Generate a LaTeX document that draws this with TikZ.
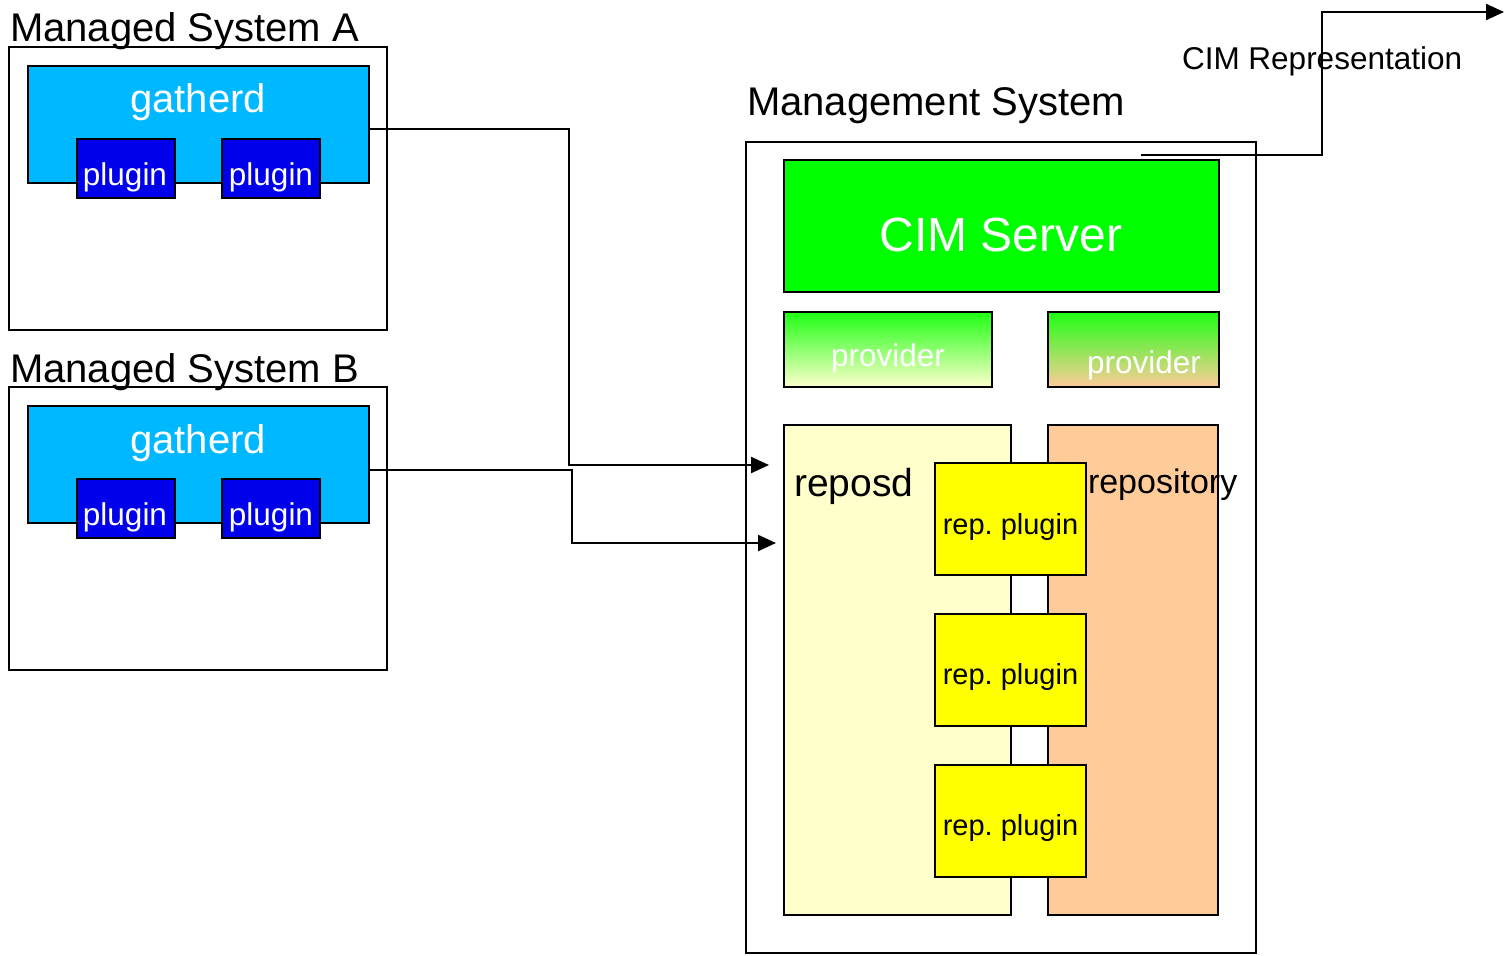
\documentclass[tikz,border=0pt]{standalone}
\usepackage{fontspec}
\setmainfont{Liberation Sans}
\usetikzlibrary{arrows.meta}
\frenchspacing
\definecolor{gathercyan}{RGB}{0,184,255}
\definecolor{plugblue}{RGB}{0,0,235}
\definecolor{cimgreen}{RGB}{0,255,0}
\definecolor{reposdfill}{RGB}{255,255,204}
\definecolor{repofill}{RGB}{255,204,153}
\definecolor{repplug}{RGB}{255,255,0}
\definecolor{provgreen}{RGB}{30,255,20}
\tikzset{
  box/.style={draw=black, line width=2pt, rectangle, inner sep=0pt, outer sep=0pt, anchor=north west},
  lbl/.style={inner sep=0pt, outer sep=0pt, anchor=base west},
  clbl/.style={inner sep=0pt, outer sep=0pt, anchor=base},
  conn/.style={draw=black, line width=2.2pt},
  arr/.style={conn, -{Triangle[length=18pt,width=16pt]}},
}
\newcommand{\fs}[1]{\fontsize{#1}{#1}\selectfont}
\begin{document}
\begin{tikzpicture}[x=1pt,y=-1pt]
\useasboundingbox (0,0) rectangle (1511,955);

% ---- Managed System A ----
\node[lbl] (labA) at (10,42) {\fs{40}Managed System A};
\node[box, minimum width=378pt, minimum height=283pt] (sysA) at (9,47) {};
\node[box, fill=gathercyan, minimum width=341pt, minimum height=117pt] (gathA) at (28,66) {};
\node[clbl, text=white] (gathAt) at (198,113) {\fs{40}gatherd};
\node[box, fill=plugblue, minimum width=98pt, minimum height=59pt] (plA1) at (77,139) {};
\node[box, fill=plugblue, minimum width=98pt, minimum height=59pt] (plA2) at (222,139) {};
\node[clbl, text=white] at (125,185) {\fs{31.5}plugin};
\node[clbl, text=white] at (271,185) {\fs{31.5}plugin};

% ---- Managed System B ----
\node[lbl] (labB) at (10,382) {\fs{40}Managed System B};
\node[box, minimum width=378pt, minimum height=283pt] (sysB) at (9,387) {};
\node[box, fill=gathercyan, minimum width=341pt, minimum height=117pt] (gathB) at (28,406) {};
\node[clbl, text=white] (gathBt) at (198,453) {\fs{40}gatherd};
\node[box, fill=plugblue, minimum width=98pt, minimum height=59pt] (plB1) at (77,479) {};
\node[box, fill=plugblue, minimum width=98pt, minimum height=59pt] (plB2) at (222,479) {};
\node[clbl, text=white] at (125,525) {\fs{31.5}plugin};
\node[clbl, text=white] at (271,525) {\fs{31.5}plugin};

% ---- Management System ----
\node[lbl] (labM) at (747,115) {\fs{40}Management System};
\node[box, minimum width=510pt, minimum height=811pt] (mgmt) at (746,142) {};
\node[box, fill=cimgreen, minimum width=435pt, minimum height=132pt] (cim) at (784,160) {};
\node[clbl, text=white] at (1001,251) {\fs{48}CIM Server};

\node[box, top color=provgreen, bottom color=reposdfill, minimum width=208pt, minimum height=75pt] (prov1) at (784,312) {};
\node[clbl, text=white] at (888,366) {\fs{31.5}provider};
\node[box, top color=provgreen, bottom color=repofill, minimum width=171pt, minimum height=75pt] (prov2) at (1048,312) {};
\node[clbl, text=white] at (1144,373) {\fs{31.5}provider};

\node[box, fill=reposdfill, minimum width=227pt, minimum height=490pt] (reposd) at (784,425) {};
\node[box, fill=repofill, minimum width=170pt, minimum height=490pt] (repo) at (1048,425) {};
\node[lbl] at (794,496) {\fs{39}reposd};

\node[box, fill=repplug, minimum width=151pt, minimum height=112pt] (rp1) at (935,463) {};
\node[box, fill=repplug, minimum width=151pt, minimum height=112pt] (rp2) at (935,614) {};
\node[box, fill=repplug, minimum width=151pt, minimum height=112pt] (rp3) at (935,765) {};
\node[clbl] at (1010.5,534) {\fs{29}rep. plugin};
\node[clbl] at (1010.5,684) {\fs{29}rep. plugin};
\node[clbl] at (1010.5,835) {\fs{29}rep. plugin};
\node[lbl] at (1088,493) {\fs{34}repository};

% ---- CIM Representation ----
\node[lbl] (labC) at (1182,70) {\fs{31.5}CIM Representation};

% ---- connectors ----
\coordinate (inA) at (769,465);
\coordinate (inB) at (776,543);
\coordinate (cimsrc) at (1141,155);
\coordinate (cimout) at (1504,12);

\draw[arr] (gathA.east |- 0,129) -| (569,465) -- (inA);
\draw[arr] (gathB.east |- 0,470) -| (572,543) -- (inB);
\draw[arr] (cimsrc) -| (1322,12) -- (cimout);
\end{tikzpicture}
\end{document}
